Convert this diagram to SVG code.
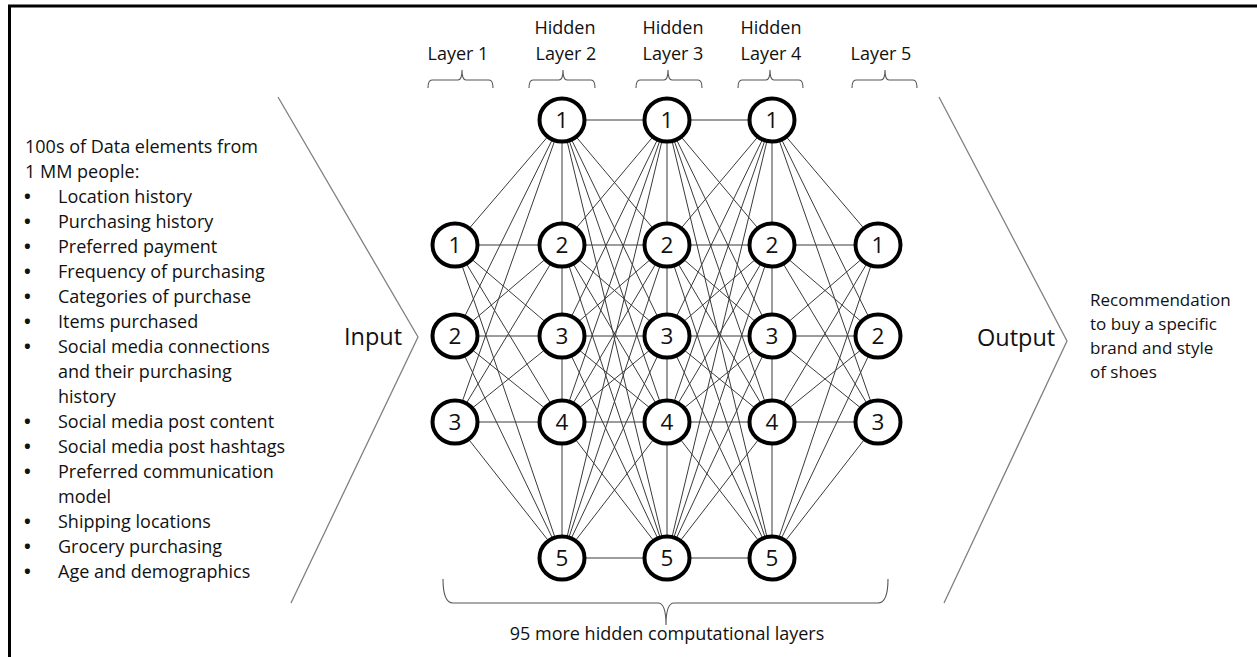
<svg xmlns="http://www.w3.org/2000/svg" width="1257" height="657" viewBox="0 0 1257 657">
<style>
text{font-family:"Open Sans",Lato,"Liberation Sans",sans-serif;fill:#111}
.t{font-size:18px}
.r{font-size:17px}
.b{font-size:18px;font-weight:bold}
.big{font-size:23.5px}
.num{font-size:22.5px;text-anchor:middle}
.mid{text-anchor:middle}
.node ellipse{fill:#fff;stroke:#000;stroke-width:4}
#connectors line{stroke:#3a3a3a;stroke-width:1}
.chev{fill:none;stroke:#808080;stroke-width:1.3}
.brace{fill:none;stroke:#555;stroke-width:1.1}
</style>
<rect width="1257" height="657" fill="#fff"/>
<path d="M9.5,657 V6 H1257" fill="none" stroke="#000" stroke-width="3"/>

<g id="top-labels">
<text class="t mid" x="458" y="60">Layer 1</text>
<text class="t mid" x="565" y="34">Hidden</text>
<text class="t mid" x="566" y="60">Layer 2</text>
<text class="t mid" x="673" y="34">Hidden</text>
<text class="t mid" x="673" y="60">Layer 3</text>
<text class="t mid" x="771" y="34">Hidden</text>
<text class="t mid" x="771" y="60">Layer 4</text>
<text class="t mid" x="881" y="60">Layer 5</text>
</g>
<g id="top-braces">
<path class="brace" d="M428,88 Q428,80 432,80 H458 Q462,80 462,70 Q462,80 466,80 H489 Q493,80 493,88"/>
<path class="brace" d="M529,88 Q529,80 533,80 H559 Q563,80 563,70 Q563,80 567,80 H591 Q595,80 595,88"/>
<path class="brace" d="M636,88 Q636,80 640,80 H664 Q668,80 668,70 Q668,80 672,80 H698 Q702,80 702,88"/>
<path class="brace" d="M738,88 Q738,80 742,80 H766 Q770,80 770,70 Q770,80 774,80 H799 Q803,80 803,88"/>
<path class="brace" d="M852,88 Q852,80 856,80 H881 Q885,80 885,70 Q885,80 889,80 H913 Q917,80 917,88"/>
</g>

<g id="input-list">
<text class="t" x="25" y="153">100s of Data elements from</text>
<text class="t" x="25" y="178">1 MM people:</text>
<text class="b" x="24" y="203">•</text><text class="t" x="58" y="203">Location history</text>
<text class="b" x="24" y="228">•</text><text class="t" x="58" y="228">Purchasing history</text>
<text class="b" x="24" y="253">•</text><text class="t" x="58" y="253">Preferred payment</text>
<text class="b" x="24" y="278">•</text><text class="t" x="58" y="278">Frequency of purchasing</text>
<text class="b" x="24" y="303">•</text><text class="t" x="58" y="303">Categories of purchase</text>
<text class="b" x="24" y="328">•</text><text class="t" x="58" y="328">Items purchased</text>
<text class="b" x="24" y="353">•</text><text class="t" x="58" y="353">Social media connections</text>
<text class="t" x="58" y="378">and their purchasing</text>
<text class="t" x="58" y="403">history</text>
<text class="b" x="24" y="428">•</text><text class="t" x="58" y="428">Social media post content</text>
<text class="b" x="24" y="453">•</text><text class="t" x="58" y="453">Social media post hashtags</text>
<text class="b" x="24" y="478">•</text><text class="t" x="58" y="478">Preferred communication</text>
<text class="t" x="58" y="503">model</text>
<text class="b" x="24" y="528">•</text><text class="t" x="58" y="528">Shipping locations</text>
<text class="b" x="24" y="553">•</text><text class="t" x="58" y="553">Grocery purchasing</text>
<text class="b" x="24" y="578">•</text><text class="t" x="58" y="578">Age and demographics</text>
</g>

<g id="input-chevron">
<path class="chev" d="M278,97 L418,337 L291,603"/>
<text class="big" x="344" y="345">Input</text>
</g>
<g id="output-chevron">
<path class="chev" d="M939,97 L1067,341 L944,603"/>
<text class="big" x="977" y="346">Output</text>
</g>
<g id="output-text">
<text class="r" x="1090" y="306">Recommendation</text>
<text class="r" x="1090" y="330">to buy a specific</text>
<text class="r" x="1090" y="354">brand and style</text>
<text class="r" x="1090" y="378">of shoes</text>
</g>

<g id="connectors">
<line x1="455" y1="245" x2="562" y2="120"/><line x1="455" y1="245" x2="562" y2="245"/><line x1="455" y1="245" x2="562" y2="336"/><line x1="455" y1="245" x2="562" y2="422"/><line x1="455" y1="245" x2="562" y2="558"/>
<line x1="455" y1="336" x2="562" y2="120"/><line x1="455" y1="336" x2="562" y2="245"/><line x1="455" y1="336" x2="562" y2="336"/><line x1="455" y1="336" x2="562" y2="422"/><line x1="455" y1="336" x2="562" y2="558"/>
<line x1="455" y1="422" x2="562" y2="120"/><line x1="455" y1="422" x2="562" y2="245"/><line x1="455" y1="422" x2="562" y2="336"/><line x1="455" y1="422" x2="562" y2="422"/><line x1="455" y1="422" x2="562" y2="558"/>

<line x1="562" y1="120" x2="667" y2="120"/><line x1="562" y1="120" x2="667" y2="245"/><line x1="562" y1="120" x2="667" y2="336"/><line x1="562" y1="120" x2="667" y2="422"/><line x1="562" y1="120" x2="667" y2="558"/>
<line x1="562" y1="245" x2="667" y2="120"/><line x1="562" y1="245" x2="667" y2="245"/><line x1="562" y1="245" x2="667" y2="336"/><line x1="562" y1="245" x2="667" y2="422"/><line x1="562" y1="245" x2="667" y2="558"/>
<line x1="562" y1="336" x2="667" y2="120"/><line x1="562" y1="336" x2="667" y2="245"/><line x1="562" y1="336" x2="667" y2="336"/><line x1="562" y1="336" x2="667" y2="422"/><line x1="562" y1="336" x2="667" y2="558"/>
<line x1="562" y1="422" x2="667" y2="120"/><line x1="562" y1="422" x2="667" y2="245"/><line x1="562" y1="422" x2="667" y2="336"/><line x1="562" y1="422" x2="667" y2="422"/><line x1="562" y1="422" x2="667" y2="558"/>
<line x1="562" y1="558" x2="667" y2="120"/><line x1="562" y1="558" x2="667" y2="245"/><line x1="562" y1="558" x2="667" y2="336"/><line x1="562" y1="558" x2="667" y2="422"/><line x1="562" y1="558" x2="667" y2="558"/>

<line x1="667" y1="120" x2="772" y2="120"/><line x1="667" y1="120" x2="772" y2="245"/><line x1="667" y1="120" x2="772" y2="336"/><line x1="667" y1="120" x2="772" y2="422"/><line x1="667" y1="120" x2="772" y2="558"/>
<line x1="667" y1="245" x2="772" y2="120"/><line x1="667" y1="245" x2="772" y2="245"/><line x1="667" y1="245" x2="772" y2="336"/><line x1="667" y1="245" x2="772" y2="422"/><line x1="667" y1="245" x2="772" y2="558"/>
<line x1="667" y1="336" x2="772" y2="120"/><line x1="667" y1="336" x2="772" y2="245"/><line x1="667" y1="336" x2="772" y2="336"/><line x1="667" y1="336" x2="772" y2="422"/><line x1="667" y1="336" x2="772" y2="558"/>
<line x1="667" y1="422" x2="772" y2="120"/><line x1="667" y1="422" x2="772" y2="245"/><line x1="667" y1="422" x2="772" y2="336"/><line x1="667" y1="422" x2="772" y2="422"/><line x1="667" y1="422" x2="772" y2="558"/>
<line x1="667" y1="558" x2="772" y2="120"/><line x1="667" y1="558" x2="772" y2="245"/><line x1="667" y1="558" x2="772" y2="336"/><line x1="667" y1="558" x2="772" y2="422"/><line x1="667" y1="558" x2="772" y2="558"/>

<line x1="772" y1="120" x2="878" y2="245"/><line x1="772" y1="120" x2="878" y2="336"/><line x1="772" y1="120" x2="878" y2="422"/>
<line x1="772" y1="245" x2="878" y2="245"/><line x1="772" y1="245" x2="878" y2="336"/><line x1="772" y1="245" x2="878" y2="422"/>
<line x1="772" y1="336" x2="878" y2="245"/><line x1="772" y1="336" x2="878" y2="336"/><line x1="772" y1="336" x2="878" y2="422"/>
<line x1="772" y1="422" x2="878" y2="245"/><line x1="772" y1="422" x2="878" y2="336"/><line x1="772" y1="422" x2="878" y2="422"/>
<line x1="772" y1="558" x2="878" y2="245"/><line x1="772" y1="558" x2="878" y2="336"/><line x1="772" y1="558" x2="878" y2="422"/>

<line x1="562" y1="120" x2="562" y2="558"/>
<line x1="667" y1="120" x2="667" y2="558"/>
<line x1="772" y1="120" x2="772" y2="558"/>
</g>

<g id="l1-n1" class="node"><ellipse cx="455" cy="245" rx="22.5" ry="21.5"/><text class="num" x="455" y="253">1</text></g>
<g id="l1-n2" class="node"><ellipse cx="455" cy="336" rx="22.5" ry="21.5"/><text class="num" x="455" y="344">2</text></g>
<g id="l1-n3" class="node"><ellipse cx="455" cy="422" rx="22.5" ry="21.5"/><text class="num" x="455" y="430">3</text></g>

<g id="h2-n1" class="node"><ellipse cx="562" cy="120" rx="22.5" ry="21.5"/><text class="num" x="562" y="128">1</text></g>
<g id="h2-n2" class="node"><ellipse cx="562" cy="245" rx="22.5" ry="21.5"/><text class="num" x="562" y="253">2</text></g>
<g id="h2-n3" class="node"><ellipse cx="562" cy="336" rx="22.5" ry="21.5"/><text class="num" x="562" y="344">3</text></g>
<g id="h2-n4" class="node"><ellipse cx="562" cy="422" rx="22.5" ry="21.5"/><text class="num" x="562" y="430">4</text></g>
<g id="h2-n5" class="node"><ellipse cx="562" cy="558" rx="22.5" ry="21.5"/><text class="num" x="562" y="566">5</text></g>

<g id="h3-n1" class="node"><ellipse cx="667" cy="120" rx="22.5" ry="21.5"/><text class="num" x="667" y="128">1</text></g>
<g id="h3-n2" class="node"><ellipse cx="667" cy="245" rx="22.5" ry="21.5"/><text class="num" x="667" y="253">2</text></g>
<g id="h3-n3" class="node"><ellipse cx="667" cy="336" rx="22.5" ry="21.5"/><text class="num" x="667" y="344">3</text></g>
<g id="h3-n4" class="node"><ellipse cx="667" cy="422" rx="22.5" ry="21.5"/><text class="num" x="667" y="430">4</text></g>
<g id="h3-n5" class="node"><ellipse cx="667" cy="558" rx="22.5" ry="21.5"/><text class="num" x="667" y="566">5</text></g>

<g id="h4-n1" class="node"><ellipse cx="772" cy="120" rx="22.5" ry="21.5"/><text class="num" x="772" y="128">1</text></g>
<g id="h4-n2" class="node"><ellipse cx="772" cy="245" rx="22.5" ry="21.5"/><text class="num" x="772" y="253">2</text></g>
<g id="h4-n3" class="node"><ellipse cx="772" cy="336" rx="22.5" ry="21.5"/><text class="num" x="772" y="344">3</text></g>
<g id="h4-n4" class="node"><ellipse cx="772" cy="422" rx="22.5" ry="21.5"/><text class="num" x="772" y="430">4</text></g>
<g id="h4-n5" class="node"><ellipse cx="772" cy="558" rx="22.5" ry="21.5"/><text class="num" x="772" y="566">5</text></g>

<g id="l5-n1" class="node"><ellipse cx="878" cy="245" rx="22.5" ry="21.5"/><text class="num" x="878" y="253">1</text></g>
<g id="l5-n2" class="node"><ellipse cx="878" cy="336" rx="22.5" ry="21.5"/><text class="num" x="878" y="344">2</text></g>
<g id="l5-n3" class="node"><ellipse cx="878" cy="422" rx="22.5" ry="21.5"/><text class="num" x="878" y="430">3</text></g>

<g id="bottom-brace">
<path class="brace" d="M443,579 Q443,603 453,603 H658 Q666,603 666,625 Q666,603 674,603 H878 Q888,603 888,579"/>
<text class="t mid" x="667" y="640">95 more hidden computational layers</text>
</g>
</svg>
